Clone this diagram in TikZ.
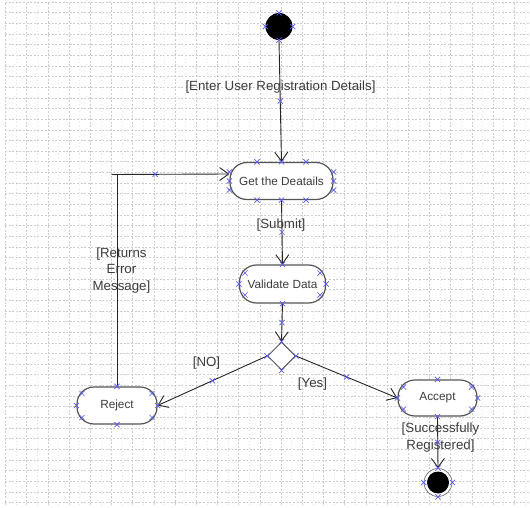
\documentclass[tikz,border=0pt]{standalone}
\usepackage{fontspec}
\setmainfont{Liberation Sans}
\usetikzlibrary{arrows.meta,calc,shapes.geometric}
\definecolor{cpblue}{RGB}{90,90,240}
\definecolor{inkgray}{RGB}{60,60,60}
\definecolor{edgegray}{RGB}{85,85,85}

\begin{document}
\begin{tikzpicture}[x=1pt,y=-1pt,
  gridmajor/.style={draw=black!20, line width=0.55pt, dash pattern=on 2pt off 1.6pt},
  gridminor/.style={draw=black!10, line width=0.5pt, dash pattern=on 1pt off 2.5pt},
  act/.style={draw=edgegray, line width=1.2pt, rounded corners=17pt, fill=white,
    minimum height=37pt, inner sep=0pt, text=inkgray,
    font=\fontsize{11.8}{13}\selectfont},
  decision/.style={diamond, draw=edgegray, line width=1pt, fill=white,
    minimum width=28pt, minimum height=28pt, inner sep=0pt},
  flow/.style={draw=black!85, line width=0.9pt,
    -{Straight Barb[length=9pt,width=13pt,line width=0.9pt]}},
  plainflow/.style={draw=black!85, line width=0.9pt},
  guard/.style={font=\fontsize{13.3}{16.3}\selectfont, text=inkgray,
    align=center, inner sep=0pt},
  cpx/.pic={\draw[cpblue, line width=0.7pt] (-2.6,-2.6) -- (2.6,2.6) (-2.6,2.6) -- (2.6,-2.6);}
]
\useasboundingbox (0,0) rectangle (530,508);
\fill[white] (0,0) rectangle (530,508);

% drawing-sheet grid
\foreach \k in {0,...,47}
  \draw[gridmajor] (5,{2+10.65*\k}) -- (530,{2+10.65*\k});
\foreach \k in {0,...,24}
  \draw[gridmajor] ({5.5+21.2*\k},3) -- ({5.5+21.2*\k},506);
\foreach \k in {0,...,24}
  \draw[gridminor] ({16.1+21.2*\k},3) -- ({16.1+21.2*\k},506);

% activity nodes
\node[circle, fill=black, minimum size=27pt, inner sep=0pt] (start) at (279,26.5) {};
\node[act, minimum width=103pt] (get) at (281.5,181) {Get the Deatails};
\node[act, minimum width=86pt, minimum height=38pt] (val) at (282.5,284) {Validate Data};
\node[decision] (dec) at (281.5,356) {};
\node[act, minimum width=80pt] (rej) at (117,405.5) {Reject};
\node[act, minimum width=79pt, minimum height=36pt] (acc) at (437.5,398) {Accept};
\node[circle, draw=black!55, line width=0.7pt, fill=white, minimum size=28pt, inner sep=0pt] (end) at (438,482.5) {};
\node[circle, fill=black, minimum size=22pt, inner sep=0pt] (endcore) at (end.center) {};

% transitions
\coordinate (retcorner) at (111.5,174.5);
\coordinate (getin) at ([yshift=7pt]get.west);
\draw[flow] (start.south) -- (get.north);
\draw[flow] (get.south) -- (val.north);
\draw[flow] (val.south) -- (dec.north);
\draw[flow] (dec.west) -- (rej.east);
\draw[flow] (dec.east) -- (acc.west);
\draw[flow] (acc.south) -- (end.north);
\draw[plainflow] (rej.north) -- (rej.north |- retcorner);
\draw[flow] (retcorner) -- (getin);

% guard labels
\node[guard] (lenter) at (280.5,87.5) {[Enter User Registration Details]};
\node[guard] (lsubmit) at (281,225.5) {[Submit]};
\node[guard] (lreturn) at (121.5,270.5) {[Returns\\Error\\Message]};
\node[guard] (lno) at (206.5,363.5) {[NO]};
\node[guard] (lyes) at (312.5,384) {[Yes]};
\node[guard] (lsucc) at (440.5,437.5) {[Successfully\\Registered]};

% connection points
\foreach \p in {north,south,east,west} {
  \pic at (start.\p) {cpx};
  \pic at (end.\p) {cpx};
  \pic at (dec.\p) {cpx};
}
\foreach \d in {-24.5,0,24.5} {
  \pic at ($(get.north)+(\d,0)$) {cpx};
  \pic at ($(get.south)+(\d,0)$) {cpx};
}
\foreach \d in {-9,0,9} {
  \pic at ($(get.west)+(0,\d)$) {cpx};
  \pic at ($(get.east)+(0,\d)$) {cpx};
}
\foreach \n/\a/\b in {val/37.5/11, rej/35/12, acc/34/11} {
  \foreach \p in {north,south,east,west}
    \pic at (\n.\p) {cpx};
  \foreach \sx in {-1,1}
    \foreach \sy in {-1,1}
      \pic at ($(\n.center)+(\sx*\a,\sy*\b)$) {cpx};
}
\pic at ($(start.south)!0.5!(get.north)$) {cpx};
\pic at ($(get.south)!0.5!(val.north)$) {cpx};
\pic at ($(val.south)!0.5!(dec.north)$) {cpx};
\pic at ($(dec.west)!0.5!(rej.east)$) {cpx};
\pic at ($(dec.east)!0.5!(acc.west)$) {cpx};
\pic at ($(acc.south)!0.5!(end.north)$) {cpx};
\pic at ($(retcorner)!0.37!(getin)$) {cpx};
\end{tikzpicture}
\end{document}
